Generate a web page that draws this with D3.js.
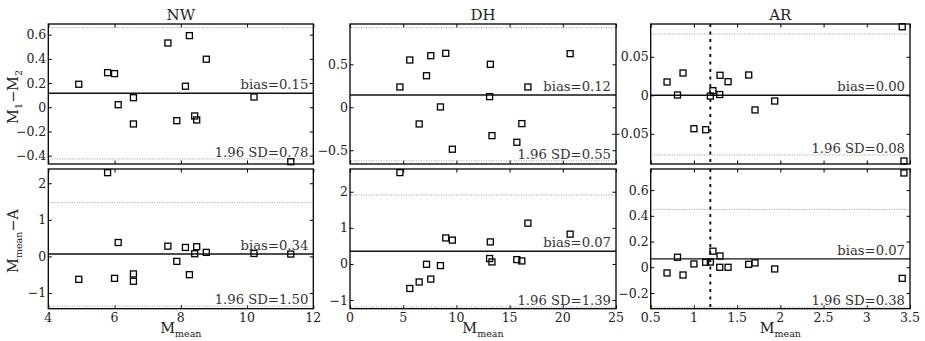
<!DOCTYPE html>
<html><head><meta charset="utf-8">
<script src="https://cdn.jsdelivr.net/npm/d3@7"></script>
<style>
body{margin:0;background:#fff;}
text{font-family:"DejaVu Serif","Liberation Serif",serif;}
</style></head>
<body><svg id="c" width="925" height="341"></svg>
<script>
// ---- data ----
const titles = ["NW", "DH", "AR"];
const nwMean = [4.92,5.79,6.0,6.11,6.57,6.57,7.61,7.88,8.14,8.26,8.42,8.48,8.77,10.21,11.32];
const nwDiffM = [0.19,0.286,0.278,0.021,0.079,-0.138,0.531,-0.111,0.174,0.592,-0.072,-0.105,0.397,0.085,-0.45];
const nwDiffA = [-0.627,2.29,-0.6,0.38,-0.68,-0.48,0.28,-0.136,0.245,-0.5,0.073,0.265,0.11,0.08,0.065];
const dhMean = [4.69,5.62,6.5,7.19,7.59,8.5,9.0,9.62,13.12,13.19,13.34,15.68,16.15,16.72,20.69];
const dhDiffM = [0.236,0.55,-0.194,0.367,0.6,0.004,0.628,-0.488,0.124,0.5,-0.33,-0.407,-0.19,0.236,0.624];
const dhDiffA = [2.53,-0.68,-0.5,-0.01,-0.42,-0.046,0.72,0.66,0.15,0.61,0.056,0.12,0.083,1.13,0.825];
const arMean = [0.689,0.81,0.874,1.0,1.136,1.19,1.22,1.299,1.302,1.395,1.634,1.707,1.935,3.41,3.43];
const arDiffM = [0.0173,0.0004,0.029,-0.0434,-0.0447,-0.001,0.006,0.001,0.026,0.0177,0.0264,-0.019,-0.0074,0.089,-0.0853];
const arDiffA = [-0.044,0.078,-0.06,0.026,0.039,0.041,0.125,0.0,0.088,0.0,0.023,0.034,-0.013,-0.086,0.733];
// limits of agreement lines [upper, bias, lower]
const nwLinesM = [0.658,0.116,-0.427];
const nwLinesA = [1.47,0.065,-1.36];
const dhLinesM = [0.926,0.143,-0.624];
const dhLinesA = [1.91,0.353,-1.19];
const arLinesM = [0.0796,0.0,-0.0775];
const arLinesA = [0.45,0.065,-0.309];
// annotation labels
const biasLabels = [["0.15","0.12","0.00"],["0.34","0.07","0.07"]];
const sdLabels = [["0.78","0.55","0.08"],["1.50","1.39","0.38"]];
// axes ranges and ticks
const xDomains = [[4,12],[0,25],[0.5,3.5]];
const xTicks = [[4,6,8,10,12],[0,5,10,15,20,25],[0.5,1,1.5,2,2.5,3,3.5]];
const yDomains = [[[-0.469,0.688],[-0.66,0.969],[-0.0892,0.0926]],
                  [[-1.43,2.39],[-1.24,2.63],[-0.322,0.764]]];
const yTicks = [[[-0.4,-0.2,0,0.2,0.4,0.6],[-0.5,0,0.5],[-0.05,0,0.05]],
                [[-1,0,1,2],[-1,0,1,2],[-0.2,0,0.2,0.4,0.6]]];
const arThreshold = 1.19;

const means = [nwMean, dhMean, arMean];
const diffs = [[nwDiffM, dhDiffM, arDiffM],[nwDiffA, dhDiffA, arDiffA]];
const lines = [[nwLinesM, dhLinesM, arLinesM],[nwLinesA, dhLinesA, arLinesA]];

// ---- layout ----
const colX = [[48.3,313.3],[350,616],[650.7,910]];
const rowY = [[24,164],[169,308.7]];

const svg = d3.select("#c");
const fmt = v => (v<0?"\u2212":"") + String(Math.abs(v));
const TICKFS = 12.5, ANNFS = 13.2;

for (let r=0;r<2;r++){
  for (let c=0;c<3;c++){
    const x = d3.scaleLinear().domain(xDomains[c]).range(colX[c]);
    const y = d3.scaleLinear().domain(yDomains[r][c]).range([rowY[r][1], rowY[r][0]]);
    const g = svg.append("g");
    const [x0,x1] = colX[c], [y0,y1] = rowY[r];
    const tl = 3.5;
    const axB = d3.axisTop(x).tickValues(xTicks[c]).tickSize(tl).tickFormat("");
    const axT = d3.axisBottom(x).tickValues(xTicks[c]).tickSize(tl).tickFormat("");
    const axL = d3.axisRight(y).tickValues(yTicks[r][c]).tickSize(tl).tickFormat("");
    const axR = d3.axisLeft(y).tickValues(yTicks[r][c]).tickSize(tl).tickFormat("");
    [[axB,`translate(0,${y1})`],[axT,`translate(0,${y0})`],[axL,`translate(${x0},0)`],[axR,`translate(${x1},0)`]].forEach(([a,t])=>{
      const ag = g.append("g").attr("transform",t).call(a);
      ag.select(".domain").remove();
      ag.selectAll("line").attr("stroke","#000").attr("stroke-width",1);
    });
    g.selectAll(".yl").data(yTicks[r][c]).enter().append("text")
      .attr("x", x0-2).attr("y", d=>y(d)+4.5).attr("text-anchor","end")
      .attr("font-size",TICKFS).attr("fill","#222").text(fmt);
    if (r===1){
      g.selectAll(".xl").data(xTicks[c]).enter().append("text")
        .attr("x", d=>x(d)).attr("y", 322).attr("text-anchor","middle")
        .attr("font-size",TICKFS).attr("fill","#222").text(fmt);
      const lab = g.append("text").attr("x",(x0+x1)/2).attr("y",333)
        .attr("text-anchor","middle").attr("font-size",14.5).attr("fill","#222");
      lab.append("tspan").text("M");
      lab.append("tspan").attr("font-size",9.5).attr("dy",4).text("mean");
    }
    if (r===0){
      g.append("text").attr("x",(x0+x1)/2).attr("y",20).attr("text-anchor","middle")
        .attr("font-size",15).attr("fill","#222").text(titles[c]);
    }
    const L = lines[r][c];
    [L[0],L[2]].forEach(v=>{
      g.append("line").attr("x1",x0+1).attr("x2",x1-1).attr("y1",y(v)).attr("y2",y(v))
        .attr("stroke","#999").attr("stroke-width",1).attr("stroke-dasharray","1,1.5");
    });
    g.append("line").attr("x1",x0).attr("x2",x1).attr("y1",y(L[1])).attr("y2",y(L[1]))
      .attr("stroke","#111").attr("stroke-width",1.4);
    if (c===2){
      g.append("line").attr("x1",x(arThreshold)).attr("x2",x(arThreshold)).attr("y1",y0).attr("y2",y1)
        .attr("stroke","#000").attr("stroke-width",1.8).attr("stroke-dasharray","3,4.5");
    }
    g.selectAll(".pt").data(means[c].map((m,i)=>[m,diffs[r][c][i]])).enter().append("rect")
      .attr("x",d=>x(d[0])-3).attr("y",d=>y(d[1])-3).attr("width",6).attr("height",6)
      .attr("fill","none").attr("stroke","#000").attr("stroke-width",1.3);
    g.append("text").attr("x",x1-5).attr("y",y(L[1])-4).attr("text-anchor","end")
      .attr("font-size",ANNFS).attr("fill","#333").text("bias="+biasLabels[r][c]);
    g.append("text").attr("x",x1-5).attr("y",y(L[2])-2).attr("text-anchor","end")
      .attr("font-size",ANNFS).attr("fill","#333").text("1.96 SD="+sdLabels[r][c]);
    g.append("rect").attr("x",x0).attr("y",y0).attr("width",x1-x0).attr("height",y1-y0)
      .attr("fill","none").attr("stroke","#000").attr("stroke-width",1.3);
  }
}
const yl1 = svg.append("text").attr("transform","translate(18,97) rotate(-90)")
  .attr("text-anchor","middle").attr("font-size",14.5).attr("fill","#222");
yl1.append("tspan").text("M");
yl1.append("tspan").attr("font-size",9.5).attr("dy",4).text("1");
yl1.append("tspan").attr("dy",-4).text("\u2212M");
yl1.append("tspan").attr("font-size",9.5).attr("dy",4).text("2");
const yl2 = svg.append("text").attr("transform","translate(18,241) rotate(-90)")
  .attr("text-anchor","middle").attr("font-size",14.5).attr("fill","#222");
yl2.append("tspan").text("M");
yl2.append("tspan").attr("font-size",9.5).attr("dy",4).text("mean");
yl2.append("tspan").attr("dy",-4).text("\u2212A");
</script></body></html>
